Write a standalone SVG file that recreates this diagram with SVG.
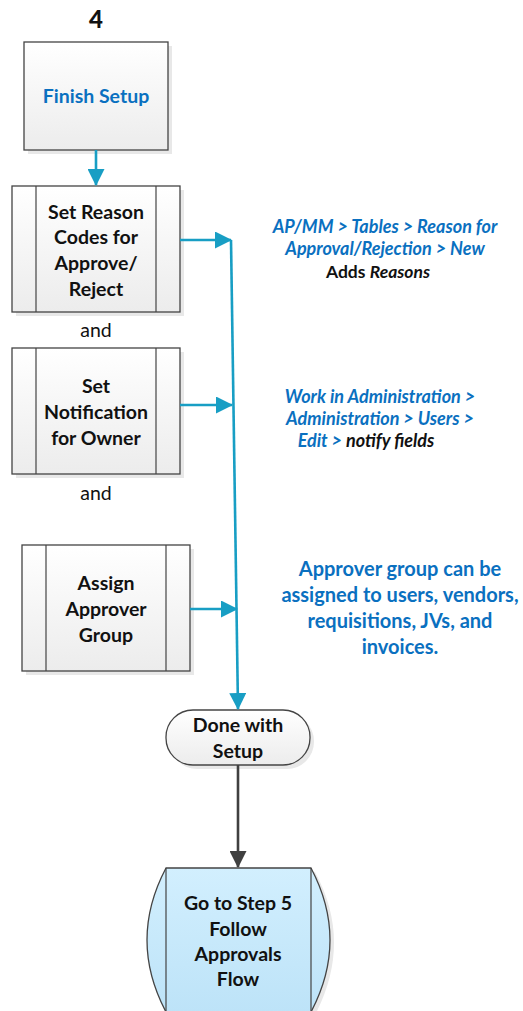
<svg xmlns="http://www.w3.org/2000/svg" width="523" height="1011" viewBox="0 0 523 1011">
<defs>
<linearGradient id="g" x1="0" y1="0" x2="0" y2="1"><stop offset="0" stop-color="#ffffff"/><stop offset="1" stop-color="#ececec"/></linearGradient>
<linearGradient id="gb" x1="0" y1="0" x2="0" y2="1"><stop offset="0" stop-color="#d2effe"/><stop offset="1" stop-color="#bde3f8"/></linearGradient>
<marker id="ta" markerWidth="17" markerHeight="17" refX="16" refY="8.5" orient="auto" markerUnits="userSpaceOnUse" viewBox="0 0 17 17"><path d="M0,0 L17,8.5 L0,17 Z" fill="#189ec4"/></marker>
<marker id="da" markerWidth="17" markerHeight="17" refX="16" refY="8.5" orient="auto" markerUnits="userSpaceOnUse" viewBox="0 0 17 17"><path d="M0,0 L17,8.5 L0,17 Z" fill="#404040"/></marker>
</defs>
<style>
.box{fill:url(#g);stroke:#444;stroke-width:1.3}
.sh{fill:#e8e8e8}
.ln{stroke:#444;stroke-width:1.2}
.t{font-family:Lato,"Open Sans",sans-serif;font-weight:bold;font-size:19.5px;text-anchor:middle;fill:#111}
.b{fill:#0a70c0}
.n{font-family:Lato,"Open Sans",sans-serif;font-size:19.5px;text-anchor:middle;fill:#111}
.i{font-family:Lato,"Open Sans",sans-serif;font-weight:bold;font-style:italic;font-size:18px;text-anchor:middle;fill:#0a70c0}
.c{stroke:#189ec4;stroke-width:2.6;fill:none}
</style>
<text x="96" y="28" class="t" style="font-size:24px;font-weight:900">4</text>
<g id="finish">
<rect x="28" y="46" width="144" height="108" class="sh"/>
<rect x="24" y="42" width="144" height="108" class="box"/>
<text x="96" y="103" class="t b">Finish Setup</text>
</g>
<g id="reason">
<rect x="16" y="190" width="168" height="126" class="sh"/>
<rect x="12" y="186" width="168" height="126" class="box"/>
<line x1="36" y1="186" x2="36" y2="312" class="ln"/><line x1="156" y1="186" x2="156" y2="312" class="ln"/>
<text class="t"><tspan x="96" y="219">Set Reason</tspan><tspan x="96" y="244">Codes for</tspan><tspan x="96" y="270">Approve/</tspan><tspan x="96" y="296">Reject</tspan></text>
</g>
<text x="96" y="337" class="n">and</text>
<g id="notify">
<rect x="16" y="352" width="168" height="126" class="sh"/>
<rect x="12" y="348" width="168" height="126" class="box"/>
<line x1="36" y1="348" x2="36" y2="474" class="ln"/><line x1="156" y1="348" x2="156" y2="474" class="ln"/>
<text class="t"><tspan x="96" y="393">Set</tspan><tspan x="96" y="419">Notification</tspan><tspan x="96" y="445">for  Owner</tspan></text>
</g>
<text x="96" y="500" class="n">and</text>
<g id="assign">
<rect x="26" y="549" width="168" height="126" class="sh"/>
<rect x="22" y="545" width="168" height="126" class="box"/>
<line x1="46" y1="545" x2="46" y2="671" class="ln"/><line x1="166" y1="545" x2="166" y2="671" class="ln"/>
<text class="t"><tspan x="106" y="590">Assign</tspan><tspan x="106" y="616">Approver</tspan><tspan x="106" y="642">Group</tspan></text>
</g>
<g id="done">
<rect x="170" y="714" width="144" height="55" rx="27" class="sh"/>
<rect x="166" y="710" width="144" height="55" rx="27" class="box"/>
<text class="t"><tspan x="238" y="732">Done with</tspan><tspan x="238" y="758">Setup</tspan></text>
</g>
<g id="step5">
<path d="M170,872 L315,872 Q353,942 315,1015 L170,1015 Q132,942 170,872 Z" fill="#e8e8e8"/>
<path d="M166,868 L311,868 Q349,940 311,1012 L166,1012 Q128,940 166,868 Z" fill="url(#gb)" stroke="#444" stroke-width="1.3"/>
<line x1="166" y1="868" x2="166" y2="1011" class="ln"/><line x1="311" y1="868" x2="311" y2="1011" class="ln"/>
<text class="t"><tspan x="238" y="910">Go to Step 5</tspan><tspan x="238" y="936">Follow</tspan><tspan x="238" y="961">Approvals</tspan><tspan x="238" y="986">Flow</tspan></text>
</g>
<g id="notes">
<text class="i"><tspan x="385" y="233">AP/MM &gt; Tables &gt; Reason for</tspan><tspan x="385" y="255">Approval/Rejection &gt; New</tspan></text>
<text x="378" y="278" class="t" style="font-size:17.5px">Adds <tspan font-style="italic">Reasons</tspan></text>
<text class="i"><tspan x="380" y="403">Work in Administration &gt;</tspan><tspan x="380" y="425">Administration &gt; Users &gt;</tspan><tspan x="366" y="447">Edit &gt;  <tspan fill="#111">notify fields</tspan></tspan></text>
<text class="t b" style="font-size:20px"><tspan x="400" y="576">Approver group can be</tspan><tspan x="400" y="602">assigned to users, vendors,</tspan><tspan x="400" y="628">requisitions, JVs, and</tspan><tspan x="400" y="654">invoices.</tspan></text>
</g>
<g id="connectors">
<line x1="96" y1="150" x2="96" y2="185" class="c" marker-end="url(#ta)"/>
<line x1="180" y1="240" x2="231" y2="240" class="c" marker-end="url(#ta)"/>
<line x1="180" y1="405" x2="232" y2="405" class="c" marker-end="url(#ta)"/>
<line x1="190" y1="609" x2="237" y2="609" class="c" marker-end="url(#ta)"/>
<line x1="231" y1="240" x2="238" y2="709" class="c" marker-end="url(#ta)"/>
<line x1="238" y1="765" x2="238" y2="867" stroke="#404040" stroke-width="2.6" marker-end="url(#da)"/>
</g>
</svg>
